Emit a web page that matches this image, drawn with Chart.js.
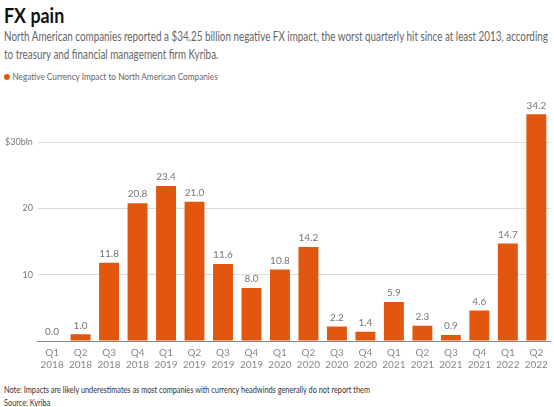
<!DOCTYPE html>
<html>
<head>
<meta charset="utf-8">
<script src="https://cdn.jsdelivr.net/npm/chart.js@4"></script>
<style>
  html, body { margin: 0; padding: 0; background: #fff; }
  body { width: 554px; height: 407px; position: relative; overflow: hidden; font-family: Lato, sans-serif; }
  .narrow { transform-origin: 0 0; white-space: nowrap; }
  #title { position: absolute; left: 4px; top: 2px; font-size: 21px; font-weight: bold; color: #111; transform: scaleX(0.85); }
  #sub { position: absolute; left: 4px; top: 28px; font-size: 12.6px; line-height: 17.5px; color: #666; transform: scaleX(0.783); }
  #legend { position: absolute; left: 4px; top: 70px; font-size: 9.8px; color: #666; transform: scaleX(0.84); }
  #legend span { display: inline-block; width: 7px; height: 6px; border-radius: 50%; background: #e2570f; margin-right: 3px; }
  #note { position: absolute; left: 4px; top: 384px; font-size: 9.2px; line-height: 12.5px; color: #333; transform: scaleX(0.8); }
  #wrap { position: absolute; left: 0; top: 92px; width: 554px; height: 285px; }
</style>
</head>
<body>
<div id="title" class="narrow">FX pain</div>
<div id="sub" class="narrow">North American companies reported a $34.25 billion negative FX impact, the worst quarterly hit since at least 2013, according<br>to treasury and financial management firm Kyriba.</div>
<div id="legend" class="narrow"><span></span>Negative Currency Impact to North American Companies</div>
<div id="wrap"><canvas id="fxChart"></canvas></div>
<div id="note" class="narrow">Note: Impacts are likely underestimates as most companies with currency headwinds generally do not report them<br>Source: Kyriba</div>
<script>
// 季度标签
const quarters = ['Q1', 'Q2', 'Q3', 'Q4', 'Q1', 'Q2', 'Q3', 'Q4', 'Q1', 'Q2', 'Q3', 'Q4', 'Q1', 'Q2', 'Q3', 'Q4', 'Q1', 'Q2'];
const years = ['2018', '2018', '2018', '2018', '2019', '2019', '2019', '2019', '2020', '2020', '2020', '2020', '2021', '2021', '2021', '2021', '2022', '2022'];
// 负面汇率影响（十亿美元）
const impact = [0.0, 1.0, 11.8, 20.8, 23.4, 21.0, 11.6, 8.0, 10.8, 14.2, 2.2, 1.4, 5.9, 2.3, 0.9, 4.6, 14.7, 34.2];
const yTicks = [0, 10, 20, 30];
const yTickLabels = ['', '10', '20', '$30bln'];

const orange = '#e2570f';

// 柱子上方的数值标签
const valueLabels = {
    id: 'valueLabels',
    afterDatasetsDraw(chart) {
        const ctx = chart.ctx;
        const meta = chart.getDatasetMeta(0);
        ctx.save();
        ctx.font = '10px Lato, sans-serif';
        ctx.fillStyle = '#777';
        ctx.textAlign = 'center';
        ctx.textBaseline = 'bottom';
        meta.data.forEach((bar, i) => {
            ctx.fillText(impact[i].toFixed(1), bar.x, bar.y - 4);
        });
        ctx.restore();
    }
};

const ctx = document.getElementById('fxChart').getContext('2d');
new Chart(ctx, {
    type: 'bar',
    data: {
        labels: quarters.map((q, i) => [q, years[i]]),
        datasets: [{
            label: 'Negative Currency Impact to North American Companies',
            data: impact,
            backgroundColor: orange,
            categoryPercentage: 1.0,
            barPercentage: 0.7
        }]
    },
    options: {
        responsive: true,
        maintainAspectRatio: false,
        animation: false,
        layout: { padding: { left: 0, right: 3, top: 0, bottom: 0 } },
        plugins: {
            legend: { display: false },
            tooltip: { enabled: false }
        },
        scales: {
            x: {
                grid: { display: false, drawTicks: false },
                border: { color: '#888', width: 1 },
                ticks: {
                    color: '#888',
                    font: { family: 'Lato', size: 10 },
                    padding: 6,
                    maxRotation: 0,
                    autoSkip: false
                }
            },
            y: {
                min: 0,
                max: 36,
                afterBuildTicks: axis => { axis.ticks = yTicks.map(v => ({ value: v })); },
                grid: { color: '#dcdcdc', drawTicks: false, lineWidth: 1 },
                border: { display: false },
                ticks: {
                    color: '#777',
                    font: { family: 'Lato', size: 9 },
                    padding: 5,
                    callback: (v) => yTickLabels[yTicks.indexOf(v)]
                }
            }
        }
    },
    plugins: [valueLabels]
});
</script>
</body>
</html>
